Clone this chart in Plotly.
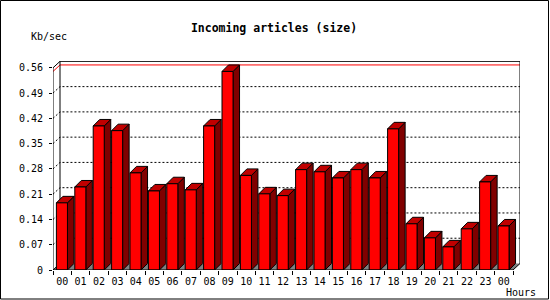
import plotly.graph_objects as go

# ---- data ----
hours = ["00","01","02","03","04","05","06","07","08","09","10","11","12",
         "13","14","15","16","17","18","19","20","21","22","23","00"]
kb_sec = [0.186,0.230,0.399,0.386,0.269,0.219,0.239,0.222,0.399,0.550,0.262,0.211,
          0.206,0.278,0.272,0.255,0.278,0.255,0.391,0.128,0.089,0.064,0.114,0.244,0.122]
y_ticks = [0,0.07,0.14,0.21,0.28,0.35,0.42,0.49,0.56]
y_labels = ["0","0.07","0.14","0.21","0.28","0.35","0.42","0.49","0.56"]

# ---- geometry ----
W, H = 550, 300
L, R, T, B = 53, 30, 61, 30
PW, PH = W - L - R, H - T - B
px_x = 18.4            # px per category slot
n = len(hours)
xmax = PW / px_x
ymax_axis = 0.56
px_y = 361.0
ymax = PH / px_y
DX = 7 / px_x          # frame depth in data units
DY = 6.5 / px_y
BDX = 6.5 / px_x       # bar depth
BDY = 6.5 / px_y
BAR_OFF = 0.185
BAR_W = 0.6

def px2paper_x(p):
    return (p - L) / PW

def px2paper_y(p):
    return (H - B - p) / PH

fig = go.Figure()

def poly_trace(polys, fill, line_color="black", width=1):
    xs, ys = [], []
    for p in polys:
        for (a, b) in p:
            xs.append(a); ys.append(b)
        xs.append(p[0][0]); ys.append(p[0][1])
        xs.append(None); ys.append(None)
    fig.add_trace(go.Scatter(x=xs, y=ys, mode="lines", fill="toself", fillcolor=fill,
                             line=dict(color=line_color, width=width),
                             hoverinfo="skip", showlegend=False, cliponaxis=False))

def line_trace(segs, color="black", width=1, dash=None):
    xs, ys = [], []
    for s in segs:
        for (a, b) in s:
            xs.append(a); ys.append(b)
        xs.append(None); ys.append(None)
    fig.add_trace(go.Scatter(x=xs, y=ys, mode="lines",
                             line=dict(color=color, width=width, dash=dash),
                             hoverinfo="skip", showlegend=False, cliponaxis=False))

# floor
poly_trace([[(0, 0), (n, 0), (n + DX, DY), (DX, DY)]], "#808080", line_color="rgba(0,0,0,0)", width=0)

# back gridlines (dotted) with diagonal stubs
grid = []
for v in y_ticks[1:-1]:
    grid.append([(0, v), (DX, v + DY), (n + DX, v + DY)])
line_trace(grid, color="black", width=1, dash="2px,2px")

# red max line
mx = max(kb_sec)
line_trace([[(0, mx), (DX, mx + DY), (n + DX, mx + DY)]], color="#FF0000", width=1)

# frame
frame = [
    [(DX, DY), (DX, ymax_axis + DY), (n + DX, ymax_axis + DY), (n + DX, DY)],
    [(0, ymax_axis), (DX, ymax_axis + DY)],
    [(0, 0), (DX, DY)],
    [(n, 0), (n + DX, DY)],
]
line_trace(frame)

# bars
fronts, sides, tops = [], [], []
for i, v in enumerate(kb_sec):
    x0 = i + BAR_OFF
    x1 = x0 + BAR_W
    fronts.append([(x0, 0), (x0, v), (x1, v), (x1, 0)])
    sides.append([(x1, 0), (x1 + BDX, BDY), (x1 + BDX, v + BDY), (x1, v)])
    tops.append([(x0, v), (x0 + BDX, v + BDY), (x1 + BDX, v + BDY), (x1, v)])
poly_trace(sides, "#800000")
poly_trace(tops, "#C00000")
poly_trace(fronts, "#FF0000")

# front axes
line_trace([[(0, ymax_axis), (0, 0), (n, 0)]])

mono = "DejaVu Sans Mono"
fig.update_layout(
    width=W, height=H,
    margin=dict(l=L, r=R, t=T, b=B),
    paper_bgcolor="white", plot_bgcolor="white",
    showlegend=False,
    xaxis=dict(range=[0, xmax], showgrid=False, zeroline=False, showline=False,
               tickmode="array", tickvals=[i + 0.5 for i in range(n)], ticktext=hours,
               ticks="", tickfont=dict(family=mono, size=10, color="black"),
               ticklabelstandoff=4,
               minor=dict(tickmode="array", tickvals=list(range(n + 1)), ticks="outside",
                          ticklen=4, tickcolor="black", tickwidth=1, showgrid=False)),
    yaxis=dict(range=[0, ymax], showgrid=False, zeroline=False, showline=False,
               tickmode="array", tickvals=y_ticks, ticktext=y_labels,
               ticks="outside", ticklen=3, tickcolor="black", tickwidth=1,
               tickfont=dict(family=mono, size=10, color="black"),
               ticklabelstandoff=4),
    title=dict(text="<b>Incoming articles (size)</b>", xref="container", yref="container",
               x=274 / W, xanchor="center", y=1 - 27.5 / H, yanchor="middle",
               font=dict(family=mono, size=11.5, color="black")),
    annotations=[
        dict(text="Kb/sec", xref="paper", yref="paper", x=px2paper_x(29), y=px2paper_y(36.5),
             xanchor="left", yanchor="middle", showarrow=False,
             font=dict(family=mono, size=10, color="black")),
        dict(text="Hours", xref="paper", yref="paper", x=px2paper_x(504), y=px2paper_y(292),
             xanchor="left", yanchor="middle", showarrow=False,
             font=dict(family=mono, size=10, color="black")),
    ],
    shapes=[dict(type="rect", xref="paper", yref="paper",
                 x0=px2paper_x(0.5), x1=px2paper_x(548.5),
                 y0=px2paper_y(0.5), y1=px2paper_y(299),
                 line=dict(color="black", width=1), fillcolor="rgba(0,0,0,0)", layer="above")],
)

fig.write_html("out.html")
